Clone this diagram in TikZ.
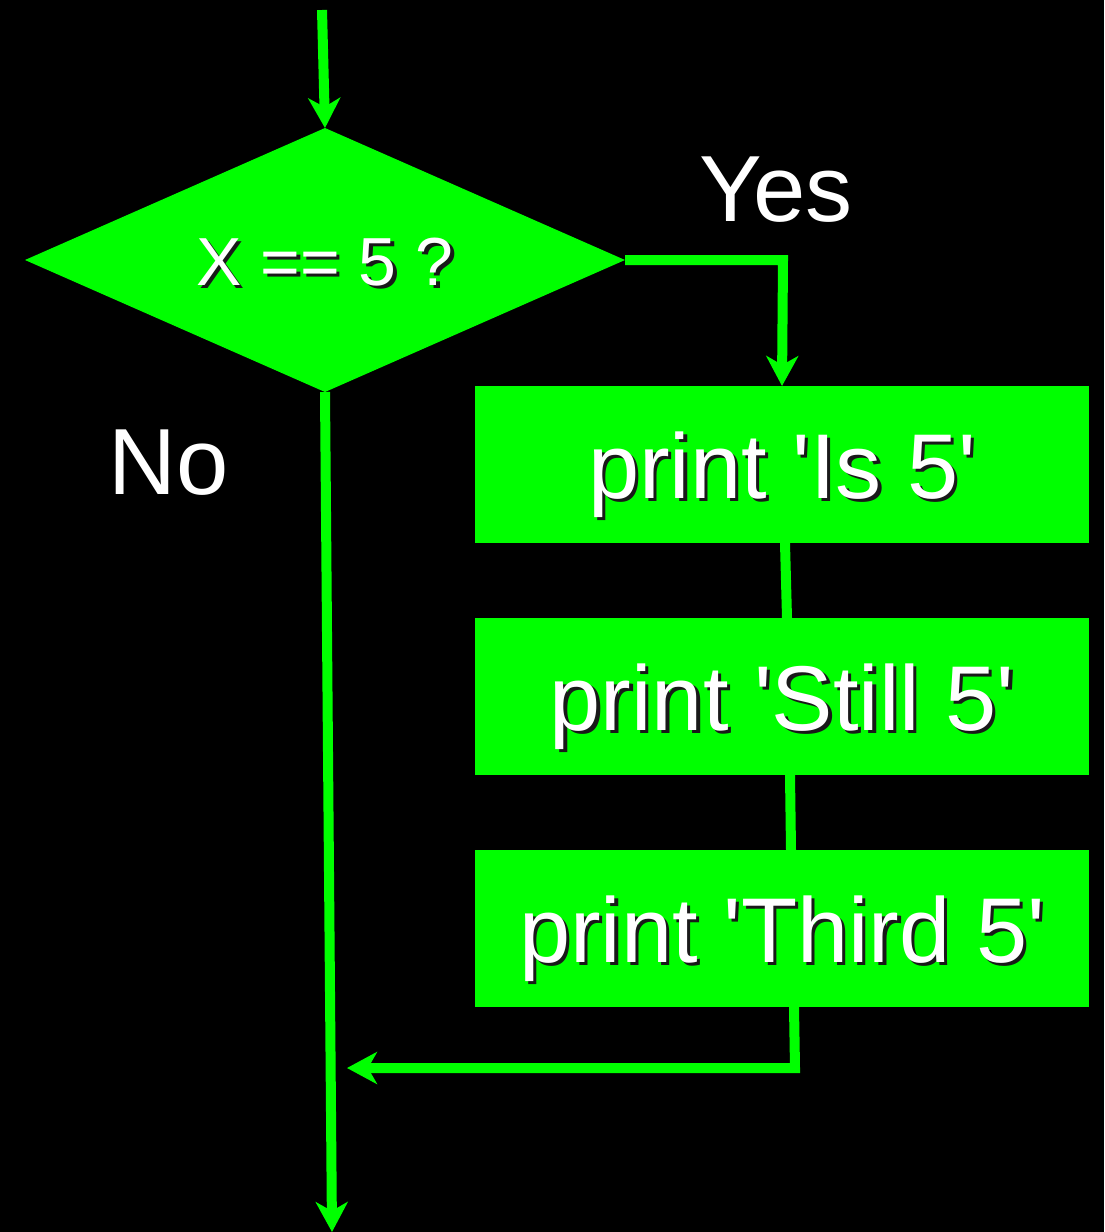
\documentclass[tikz,border=0pt]{standalone}
\usepackage{fontspec}
\setmainfont{Liberation Sans}
\usetikzlibrary{shapes.geometric,arrows.meta}
\definecolor{flowgreen}{RGB}{0,255,0}
% white lettering with a small black drop shadow
\newcommand\shadowtext[1]{\rlap{\kern3.5pt\raisebox{-3.5pt}{\color{black!90}#1}}{\color{white}#1}}
\newcommand\sq{\textquotesingle}
\tikzset{
  flowline/.style={draw=flowgreen, line width=10pt},
  flowarrow/.style={flowline, -{Stealth[length=30pt, width=32pt, inset=9pt]}},
  decision/.style={diamond, aspect=2.27, fill=flowgreen, inner sep=0pt, outer sep=0pt,
    minimum width=600pt, minimum height=264pt, text height=50pt, text depth=0pt,
    font=\fontsize{68}{80}\selectfont},
  stepbox/.style={rectangle, fill=flowgreen, inner sep=0pt, outer sep=0pt,
    minimum width=614pt, minimum height=157pt, text height=67pt, text depth=0pt,
    font=\fontsize{92}{110}\selectfont},
  branchlabel/.style={text=white, font=\fontsize{94}{110}\selectfont}
}
\begin{document}
\begin{tikzpicture}[x=1pt,y=-1pt]
  \useasboundingbox[fill=black] (0,0) rectangle (1104,1232);

  % decision and the three statements of the "yes" branch
  \node[decision] (test) at (325,260) {\shadowtext{X == 5 ?}};
  \node[stepbox] (s1) at (782,464.5) {\shadowtext{print \sq Is 5\sq}};
  \node[stepbox] (s2) at (782,696.5) {\shadowtext{print \sq Still 5\sq}};
  \node[stepbox] (s3) at (782,928.5) {\shadowtext{print \sq Third 5\sq}};

  % branch labels
  \node[branchlabel] (yes) at (776,190) {Yes};
  \node[branchlabel] (no) at (169,463) {No};

  % free ends and corners of the connectors
  \coordinate (entry) at (322,10);
  \coordinate (exit) at (332,1232);
  \coordinate (yescorner) at (783,260);
  \coordinate (joincorner) at (795,1068);
  \coordinate (joinend) at (347,1068);

  % connectors
  \draw[flowarrow] (entry) -- (test.north);
  \draw[flowarrow] (test.east) -- (yescorner) -- (s1.north);
  \draw[flowline] ([xshift=3pt]s1.south) -- ([xshift=5pt]s2.north);
  \draw[flowline] ([xshift=8pt]s2.south) -- ([xshift=9pt]s3.north);
  \draw[flowarrow] ([xshift=12pt]s3.south) -- (joincorner) -- (joinend);
  \draw[flowarrow] (test.south) -- (exit);
\end{tikzpicture}
\end{document}
